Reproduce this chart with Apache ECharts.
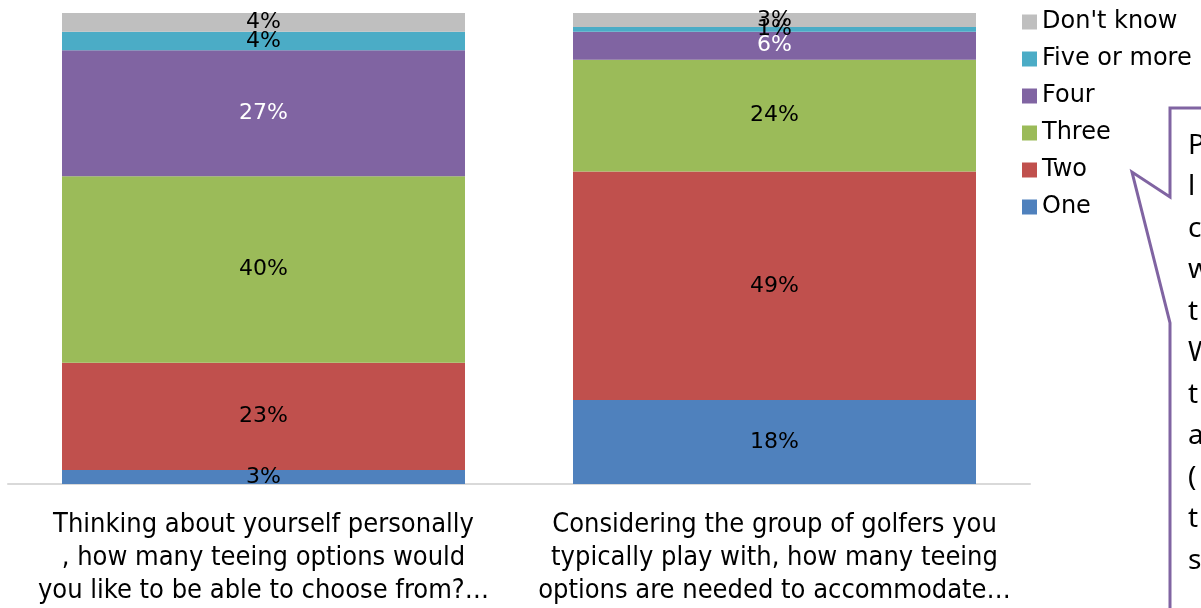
<!DOCTYPE html>
<html><head><meta charset="utf-8">
<script src="https://cdn.jsdelivr.net/npm/echarts@6/dist/echarts.min.js"></script>
<style>html,body{margin:0;padding:0;background:#fff}#c{width:1201px;height:608px}</style>
</head><body><div id="c"></div>
<script>
const categories = [
  "Thinking about yourself personally\n, how many teeing options would\nyou like to be able to choose from?…",
  "Considering the group of golfers you\ntypically play with, how many teeing\noptions are needed to accommodate…"
];
const seriesNames = ["One", "Two", "Three", "Four", "Five or more", "Don't know"];
const one = [3, 18];
const two = [23, 49];
const three = [40, 24];
const four = [27, 6];
const fiveOrMore = [4, 1];
const dontKnow = [4, 3];
const legendOrder = ["Don't know", "Five or more", "Four", "Three", "Two", "One"];
const calloutLetters = ["P", "l", "c", "w", "t", "W", "t", "a", "(", "t", "s"];

const colors = ["#4F81BD", "#C0504D", "#9BBB59", "#8064A2", "#4BACC6", "#BFBFBF"];
const labelColors = ["#000", "#000", "#000", "#fff", "#000", "#000"];
const values = [one, two, three, four, fiveOrMore, dontKnow];
const total = one[0] + two[0] + three[0] + four[0] + fiveOrMore[0] + dontKnow[0];

const chart = echarts.init(document.getElementById('c'));
const series = seriesNames.map((n, i) => ({
  name: n, type: 'bar', stack: 'total', barWidth: 403,
  data: values[i],
  itemStyle: { color: colors[i] },
  label: { show: true, position: 'inside', formatter: '{c}%', color: labelColors[i],
    fontSize: 22, fontFamily: 'DejaVu Sans' }
}));

const graphics = [{
  type: 'polyline',
  shape: { points: [[1215, 108], [1170, 108], [1170, 197], [1132, 172], [1170, 323], [1170, 620]] },
  style: { stroke: '#8064A2', lineWidth: 3, fill: null }
}];
calloutLetters.forEach((ch, i) => {
  graphics.push({ type: 'text', left: 1188, top: 132 + i * 41.5,
    style: { text: ch, fontSize: 28, fontFamily: 'Noto Sans', fill: '#000' } });
});

chart.setOption({
  animation: false,
  grid: { left: 8, right: 171, top: 13, bottom: 124, containLabel: false },
  legend: {
    data: legendOrder, orient: 'vertical', left: 1017, top: 5,
    itemWidth: 15, itemHeight: 15, itemGap: 13, icon: 'rect',
    textStyle: { fontSize: 24, fontFamily: 'DejaVu Sans', color: '#000' }
  },
  xAxis: {
    type: 'category', data: categories,
    axisLine: { lineStyle: { color: '#D9D9D9', width: 2 } },
    axisTick: { show: false },
    axisLabel: { interval: 0, fontSize: 27, lineHeight: 33, color: '#000', fontFamily: 'DejaVu Sans Condensed', margin: 24 }
  },
  yAxis: { type: 'value', min: 0, max: total, show: false, splitLine: { show: false } },
  series: series,
  graphic: graphics
});
</script></body></html>
